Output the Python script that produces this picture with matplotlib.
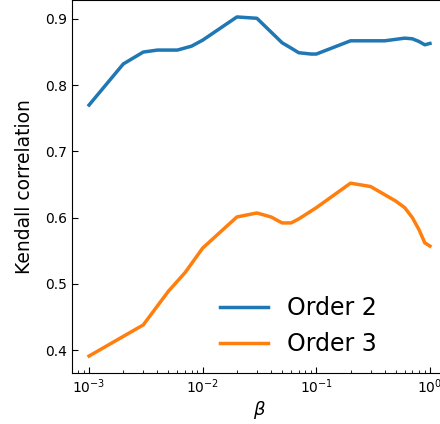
import matplotlib
matplotlib.use('Agg')
import matplotlib.pyplot as plt
import numpy as np

# значения beta для двух кривых
beta_2 = [0.001, 0.002, 0.003, 0.004, 0.006, 0.008, 0.01, 0.02, 0.03, 0.05,
          0.06, 0.07, 0.09, 0.1, 0.2, 0.3, 0.4, 0.6, 0.7, 0.8, 0.9, 1.0]
order_2 = [0.770, 0.832, 0.850, 0.853, 0.853, 0.859, 0.868, 0.903, 0.901, 0.864,
           0.856, 0.849, 0.847, 0.847, 0.867, 0.867, 0.867, 0.871, 0.870, 0.866,
           0.861, 0.863]

beta_3 = [0.001, 0.003, 0.005, 0.007, 0.01, 0.02, 0.03, 0.04, 0.05, 0.06,
          0.07, 0.1, 0.2, 0.3, 0.5, 0.6, 0.7, 0.8, 0.9, 1.0]
order_3 = [0.391, 0.438, 0.489, 0.517, 0.554, 0.601, 0.607, 0.601, 0.592, 0.592,
           0.598, 0.615, 0.652, 0.647, 0.625, 0.615, 0.600, 0.582, 0.562, 0.557]

fig = plt.figure(figsize=(4.4, 4.24), dpi=100)
# оси чуть выходят за правый край картинки, как в оригинале
ax = fig.add_axes([72 / 440, 51 / 424, 375 / 440, 373 / 424])

ax.plot(beta_2, order_2, color='#1f77b4', linewidth=2.5, label='Order 2')
ax.plot(beta_3, order_3, color='#ff7f0e', linewidth=2.5, label='Order 3')

ax.set_xscale('log')
ax.set_yticks([0.4, 0.5, 0.6, 0.7, 0.8, 0.9])
ax.tick_params(which='both', direction='in', labelsize=10)
ax.tick_params(which='major', length=4)
ax.tick_params(which='minor', length=2.5)

ax.set_xlabel(r'$\beta$', fontsize=13, labelpad=2)
ax.set_ylabel('Kendall correlation', fontsize=13.5, labelpad=8)

ax.legend(fontsize=17, frameon=False, loc='lower right',
          bbox_to_anchor=(0.868, -0.012))

fig.savefig('out.png', dpi=100)
